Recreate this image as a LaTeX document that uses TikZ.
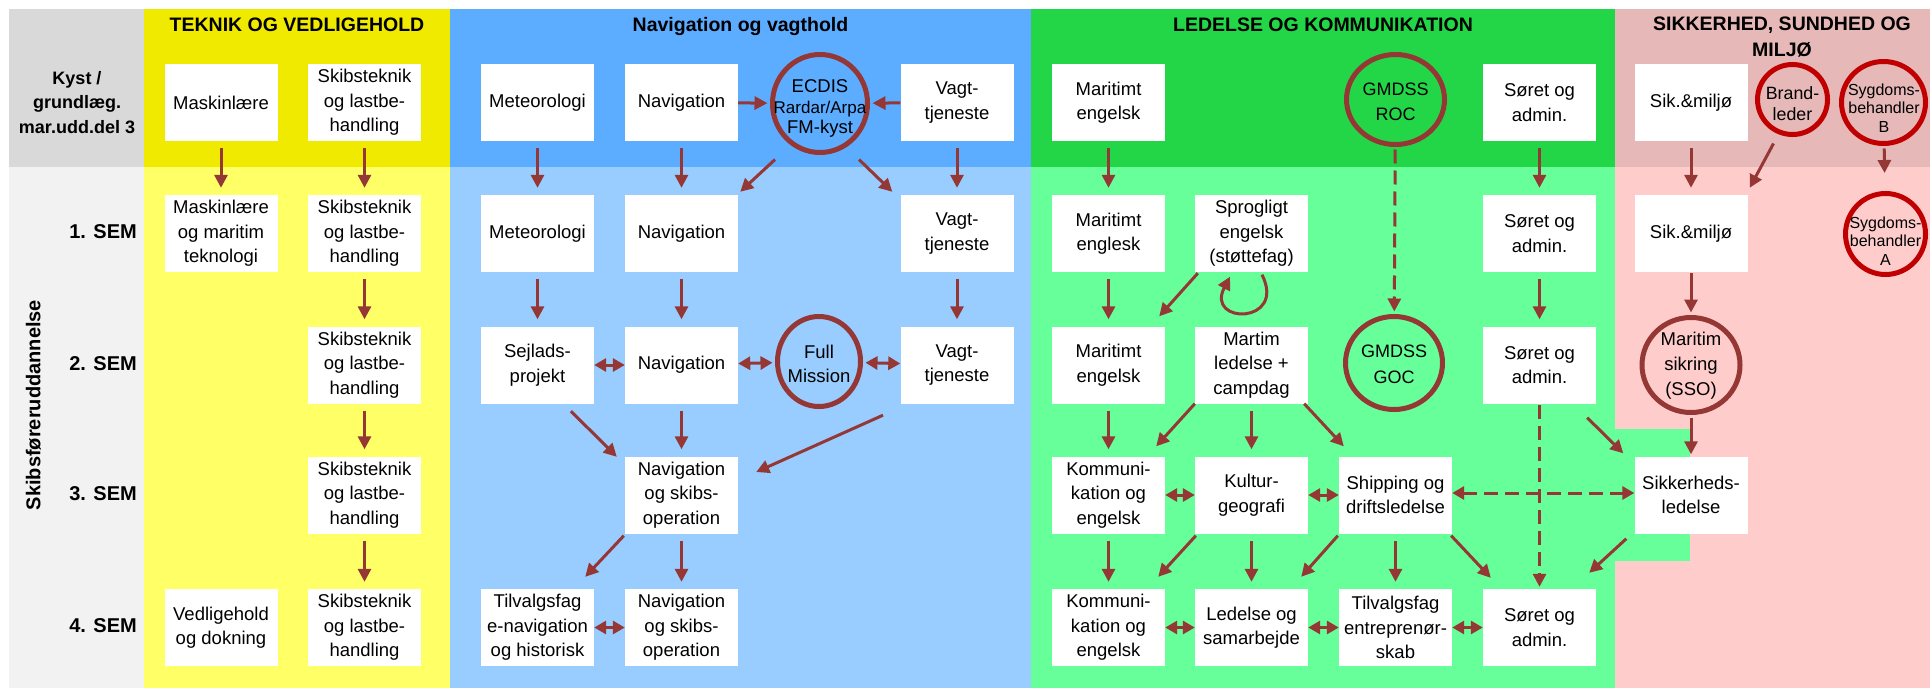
\documentclass[tikz,border=0pt]{standalone}
\usepackage{fontspec}
\setmainfont{Liberation Sans}
\usetikzlibrary{arrows.meta,shapes.geometric,calc}
\definecolor{arrc}{HTML}{953735}
\definecolor{pinkc}{HTML}{C00000}
\definecolor{grayH}{HTML}{D9D9D9}
\definecolor{grayB}{HTML}{F2F2F2}
\definecolor{yelH}{HTML}{F0E900}
\definecolor{yelB}{HTML}{FFFF66}
\definecolor{bluH}{HTML}{5CACFF}
\definecolor{bluB}{HTML}{99CCFF}
\definecolor{grnH}{HTML}{23D648}
\definecolor{grnB}{HTML}{66FF99}
\definecolor{pnkH}{HTML}{E6B8B7}
\definecolor{pnkB}{HTML}{FFCCCC}
\tikzset{
  box/.style={fill=white, minimum width=113pt, minimum height=77pt, inner sep=0pt, align=center, font=\fontsize{18.5}{24.5}\selectfont},
  circ/.style={ellipse, draw=arrc, line width=5pt, inner sep=0pt},
  pcirc/.style={ellipse, draw=pinkc, line width=5pt, inner sep=0pt},
  ctext/.style={align=center, inner sep=0pt, font=\fontsize{18.5}{24.5}\selectfont},
  arr/.style={draw=arrc, line width=3pt, -{Triangle[length=13pt,width=13pt]}},
  darr/.style={draw=arrc, line width=3pt, {Triangle[length=12pt,width=13pt]}-{Triangle[length=12pt,width=13pt]}},
  dsh/.style={dash pattern=on 14pt off 7pt},
  vgap/.style={shorten <=7pt, shorten >=7pt},
  ttl/.style={font=\fontsize{19.5}{26}\selectfont\bfseries, align=center, inner sep=0pt},
  lbl/.style={font=\fontsize{18}{24.5}\selectfont\bfseries, align=center, inner sep=0pt},
  sem/.style={font=\fontsize{20}{24}\selectfont\bfseries, anchor=east, inner sep=0pt},
}
\begin{document}
\begin{tikzpicture}[x=1pt,y=-1pt]
\useasboundingbox (0,0) rectangle (1930,688);
\fill[white] (0,0) rectangle (1930,688);
% backgrounds
\fill[grayH] (9,9) rectangle (144,167);
\fill[grayB] (9,167) rectangle (144,688);
\fill[yelH] (144,9) rectangle (450,167);
\fill[yelB] (144,167) rectangle (450,688);
\fill[bluH] (450,9) rectangle (1031,167);
\fill[bluB] (450,167) rectangle (1031,688);
\fill[grnH] (1031,9) rectangle (1615,167);
\fill[grnB] (1031,167) rectangle (1615,688);
\fill[pnkH] (1615,9) rectangle (1930,167);
\fill[pnkB] (1615,167) rectangle (1930,688);
\fill[grnB] (1615,429) rectangle (1690,561);

% titles
\node[ttl, anchor=base] (t1) at (297,31) {TEKNIK OG VEDLIGEHOLD};
\node[ttl, anchor=base] (t2) at (740.5,31) {Navigation og vagthold};
\node[ttl, anchor=base] (t3) at (1323,31) {LEDELSE OG KOMMUNIKATION};
\node[ttl, anchor=north] (t4) at (1782,17) {SIKKERHED, SUNDHED OG\\MILJØ};

% row labels
\node[lbl] (kyst) at (77,102.5) {Kyst /\\grundlæg.\\mar.udd.del 3};
\node[sem] (s1) at (137,232) {1. SEM};
\node[sem] (s2) at (137,363.5) {2. SEM};
\node[sem] (s3) at (137,493.5) {3. SEM};
\node[sem] (s4) at (137,626) {4. SEM};
\node[font=\fontsize{20}{24}\selectfont\bfseries, rotate=90, inner sep=0pt] (skf) at (33.5,405) {Skibsføreruddannelse};

% header row
\node[box] (mask0) at (221,102.5) {Maskinlære};
\node[box] (skib0) at (364.5,102.5) {Skibsteknik\\og lastbe-\\handling};
\node[box] (met0) at (537.5,102.5) {Meteorologi};
\node[box] (nav0) at (681.5,102.5) {Navigation};
\node[circ, minimum width=95pt, minimum height=98pt] (ecdis) at (820,103.5) {};
\node[ctext, font=\fontsize{18.5}{20.5}\selectfont] (ecdisT) at (820,108.5) {ECDIS\\{\fontsize{17}{20.5}\selectfont Rardar/Arpa}\\FM-kyst};
\node[box] (vagt0) at (957,102.5) {Vagt-\\tjeneste};
\node[box] (mar0) at (1108.5,102.5) {Maritimt\\engelsk};
\node[circ, minimum width=98pt, minimum height=90pt] (roc) at (1395.5,99.5) {};
\node[ctext, font=\fontsize{18}{25.5}\selectfont] (rocT) at (1395.5,102) {GMDSS\\ROC};
\node[box] (sor0) at (1539.5,102.5) {Søret og\\admin.};
\node[box] (sik0) at (1691,102.5) {Sik.\&miljø};
\node[pcirc, minimum width=70pt, minimum height=70pt] (brand) at (1792.5,99.5) {};
\node[ctext, font=\fontsize{17.8}{21}\selectfont] (brandT) at (1792.5,104) {Brand-\\leder};
\node[pcirc, minimum width=84pt, minimum height=82pt] (sygB) at (1883.5,102.5) {};
\node[ctext, font=\fontsize{16}{18.5}\selectfont] (sygBT) at (1884,108) {Sygdoms-\\behandler\\B};

% row 1
\node[box] (mask1) at (221,233.5) {Maskinlære\\og maritim\\teknologi};
\node[box] (skib1) at (364.5,233.5) {Skibsteknik\\og lastbe-\\handling};
\node[box] (met1) at (537.5,233.5) {Meteorologi};
\node[box] (nav1) at (681.5,233.5) {Navigation};
\node[box] (vagt1) at (957,233.5) {Vagt-\\tjeneste};
\node[box] (mar1) at (1108.5,233.5) {Maritimt\\englesk};
\node[box] (spr1) at (1251.5,233.5) {Sprogligt\\engelsk\\(støttefag)};
\node[box] (sor1) at (1539.5,233.5) {Søret og\\admin.};
\node[box] (sik1) at (1691,233.5) {Sik.\&miljø};
\node[pcirc, minimum width=80pt, minimum height=81pt] (sygA) at (1885.5,234) {};
\node[ctext, font=\fontsize{16}{18.5}\selectfont] (sygAT) at (1885.5,241) {Sygdoms-\\behandler\\A};

% row 2
\node[box] (skib2) at (364.5,365) {Skibsteknik\\og lastbe-\\handling};
\node[box] (sejl) at (537.5,365) {Sejlads-\\projekt};
\node[box] (nav2) at (681.5,365) {Navigation};
\node[circ, minimum width=83pt, minimum height=90pt] (full) at (819,361.5) {};
\node[ctext] (fullT) at (819,364) {Full\\Mission};
\node[box] (vagt2) at (957,365) {Vagt-\\tjeneste};
\node[box] (mar2) at (1108.5,365) {Maritimt\\engelsk};
\node[box] (led2) at (1251.5,365) {Martim\\ledelse +\\campdag};
\node[circ, minimum width=97pt, minimum height=93pt] (goc) at (1394,363) {};
\node[ctext, font=\fontsize{18}{25.5}\selectfont] (gocT) at (1394,364.5) {GMDSS\\GOC};
\node[box] (sor2) at (1539.5,365) {Søret og\\admin.};
\node[circ, minimum width=98pt, minimum height=95pt] (marsik) at (1691,365) {};
\node[ctext, font=\fontsize{18.5}{25}\selectfont] (marsikT) at (1691,366) {Maritim\\sikring\\(SSO)};

% row 3
\node[box] (skib3) at (364.5,495) {Skibsteknik\\og lastbe-\\handling};
\node[box] (nav3) at (681.5,495) {Navigation\\og skibs-\\operation};
\node[box] (kom3) at (1108.5,495) {Kommuni-\\kation og\\engelsk};
\node[box] (kul3) at (1251.5,495) {Kultur-\\geografi};
\node[box] (ship3) at (1395.5,495) {Shipping og\\driftsledelse};
\node[box] (sikled) at (1691,495) {Sikkerheds-\\ledelse};

% row 4
\node[box] (ved4) at (221,627.5) {Vedligehold\\og dokning};
\node[box] (skib4) at (364.5,627.5) {Skibsteknik\\og lastbe-\\handling};
\node[box] (tilv4) at (537.5,627.5) {Tilvalgsfag\\e-navigation\\og historisk};
\node[box] (nav4) at (681.5,627.5) {Navigation\\og skibs-\\operation};
\node[box] (kom4) at (1108.5,627.5) {Kommuni-\\kation og\\engelsk};
\node[box] (led4) at (1251.5,627.5) {Ledelse og\\samarbejde};
\node[box] (tilve4) at (1395.5,627.5) {Tilvalgsfag\\entreprenør-\\skab};
\node[box] (sor4) at (1539.5,627.5) {Søret og\\admin.};

% vertical arrows
\draw[arr,vgap] (mask0) -- (mask1);
\draw[arr,vgap] (skib0) -- (skib1);
\draw[arr,vgap] (skib1) -- (skib2);
\draw[arr,vgap] (skib2) -- (skib3);
\draw[arr,vgap] (skib3) -- (skib4);
\draw[arr,vgap] (met0) -- (met1);
\draw[arr,vgap] (nav0) -- (nav1);
\draw[arr,vgap] (vagt0) -- (vagt1);
\draw[arr,vgap] (met1) -- (sejl);
\draw[arr,vgap] (nav1) -- (nav2);
\draw[arr,vgap] (vagt1) -- (vagt2);
\draw[arr,vgap] (nav2) -- (nav3);
\draw[arr,vgap] (nav3) -- (nav4);
\draw[arr,vgap] (mar0) -- (mar1);
\draw[arr,vgap] (sor0) -- (sor1);
\draw[arr,vgap] (mar1) -- (mar2);
\draw[arr,vgap] (sor1) -- (sor2);
\draw[arr,vgap] (mar2) -- (kom3);
\draw[arr,vgap] (led2) -- (kul3);
\draw[arr,vgap] (kom3) -- (kom4);
\draw[arr,vgap] (kul3) -- (led4);
\draw[arr,vgap] (ship3) -- (tilve4);
\draw[arr,vgap] (sik0) -- (sik1);
\draw[arr, shorten <=1pt, shorten >=2.5pt] (sik1) -- (marsik);
\draw[arr, shorten <=2.5pt, shorten >=2pt] (marsik) -- (sikled);
\draw[arr, shorten <=2.5pt, shorten >=18pt] (sygB) -- (sygA);

% horizontal arrows
\draw[arr, shorten >=2.5pt] (nav0) -- (ecdis);
\draw[arr, shorten >=2.5pt] (vagt0) -- (ecdis);
\draw[darr] (sejl) -- (nav2);
\draw[darr, shorten >=2.5pt] (nav2) -- (full);
\draw[darr, shorten <=2.5pt] (full) -- (vagt2);
\draw[darr] (tilv4) -- (nav4);
\draw[darr] (kom3) -- (kul3);
\draw[darr] (kul3) -- (ship3);
\draw[darr] (kom4) -- (led4);
\draw[darr] (led4) -- (tilve4);
\draw[darr] (tilve4) -- (sor4);

% dashed
\draw[arr, dsh, shorten <=2.5pt, shorten >=2.5pt] (roc) -- (goc);
\draw[arr, dsh, shorten <=1.5pt, shorten >=2pt] (sor2) -- (sor4);
\draw[darr, dsh] ($(ship3.east)+(0,-2)$) -- ($(sikled.west)+(0,-2)$);

% diagonal arrows
\draw[arr] ($(ecdis.south)+(-45,4.5)$) -- ($(nav1.north east)+(2,-3)$);
\draw[arr] ($(ecdis.south)+(39,4.5)$) -- ($(vagt1.north west)+(-8,-3)$);
\draw[arr] ($(sejl.south)+(33.5,7.5)$) -- ($(nav3.north west)+(-8,0.5)$);
\draw[arr] ($(vagt2.south)+(-74,11.5)$) -- ($(nav3.east)+(18,-23)$);
\draw[arr] ($(nav3.south west)+(-1,2)$) -- ($(tilv4.north east)+(-9,-12)$);
\draw[arr] ($(spr1.south west)+(3,1)$) -- ($(mar2.north east)+(-6,-10)$);
\draw[arr] ($(led2.south west)+(0,0)$) -- ($(kom3.north east)+(-9,-10)$);
\draw[arr] ($(led2.south east)+(-4,0)$) -- ($(ship3.north west)+(5,-10)$);
\draw[arr] ($(sor2.south east)+(-9,14)$) -- ($(sikled.north west)+(-11,-3)$);
\draw[arr] ($(kul3.south west)+(1,2)$) -- ($(kom4.north east)+(-7,-12)$);
\draw[arr] ($(ship3.south west)+(-1,2)$) -- ($(led4.north east)+(-7,-12)$);
\draw[arr] ($(ship3.south east)+(-1,2)$) -- ($(sor4.north west)+(8,-11)$);
\draw[arr] ($(sikled.south west)+(-8,5)$) -- ($(sor4.north east)+(-7,-16)$);
\draw[arr] ($(brand.south)+(-19,6.5)$) -- ($(sik1.north east)+(2,-7)$);

% self loop
\draw[arr] ($(spr1.south)+(10.5,2.5)$) .. controls +(25,50) and +(-25,48) .. ($(spr1.south)+(-21.5,4.5)$);
\end{tikzpicture}
\end{document}
